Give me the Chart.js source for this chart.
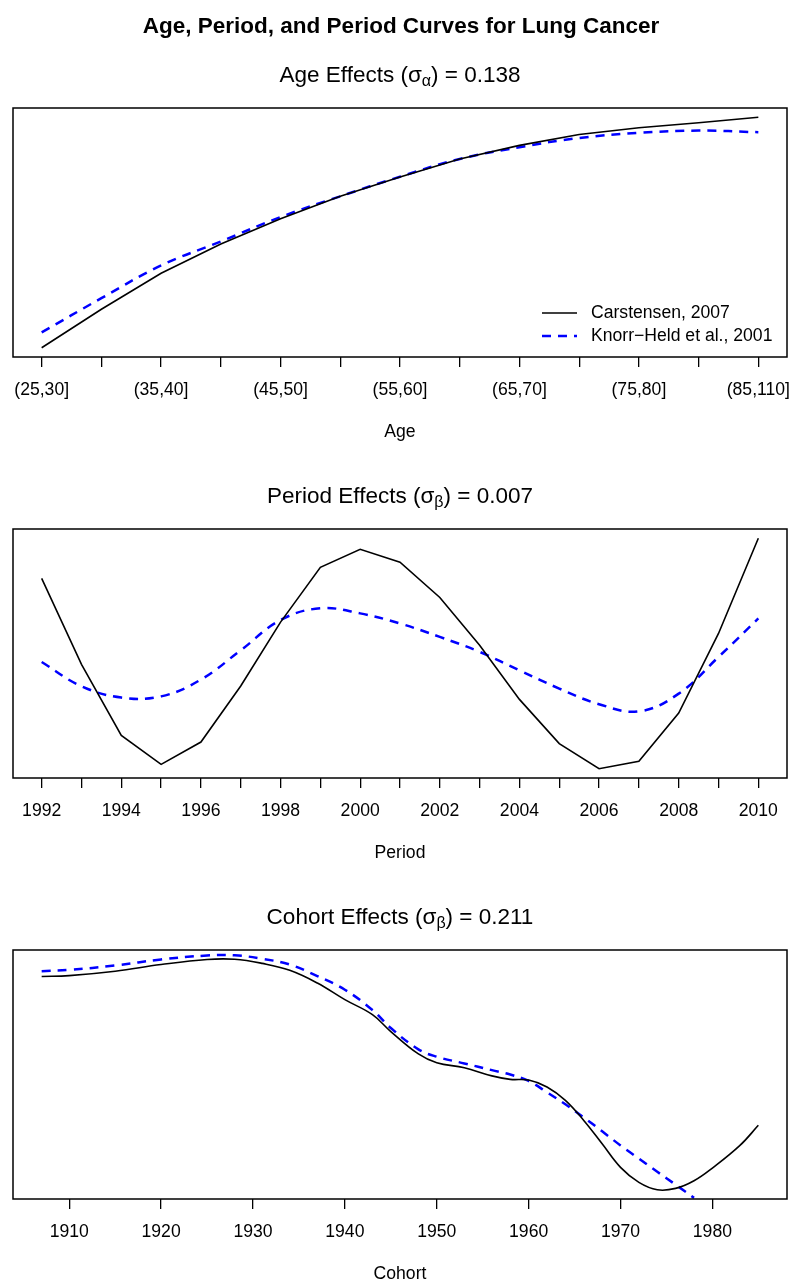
<!DOCTYPE html>
<html>
<head>
<meta charset="utf-8">
<script src="https://cdn.jsdelivr.net/npm/chart.js@4.4.1/dist/chart.umd.min.js"></script>
<style>
body { margin: 0; background: #fff; }
#wrap { position: relative; width: 793px; height: 1285px; }
canvas { position: absolute; left: 0; }
</style>
</head>
<body>
<div id="wrap">
    <canvas id="agePanel" width="793" height="443" style="top:0px"></canvas>
    <canvas id="periodPanel" width="793" height="443" style="top:421px"></canvas>
    <canvas id="cohortPanel" width="793" height="443" style="top:842px"></canvas>
</div>
<script>
// ---- data (relative effect scale, y axis is not drawn) ----
const ageLabels = ["(25,30]", "(30,35]", "(35,40]", "(40,45]", "(45,50]", "(50,55]", "(55,60]",
                   "(60,65]", "(65,70]", "(70,75]", "(75,80]", "(80,85]", "(85,110]"];
const ageCarstensen = [0, 0.167, 0.323, 0.450, 0.560, 0.657, 0.741, 0.819, 0.878, 0.925, 0.954, 0.976, 1.0];
const ageKnorrHeld  = [0.067, 0.215, 0.357, 0.461, 0.567, 0.657, 0.742, 0.819, 0.870, 0.910, 0.932, 0.942, 0.935];

const periodYears = [1992, 1993, 1994, 1995, 1996, 1997, 1998, 1999, 2000, 2001,
                     2002, 2003, 2004, 2005, 2006, 2007, 2008, 2009, 2010];
const periodCarstensen = [0.826, 0.453, 0.145, 0.019, 0.116, 0.359, 0.636, 0.874, 0.952, 0.896,
                          0.743, 0.536, 0.301, 0.109, 0, 0.033, 0.242, 0.587, 1.0];
const periodKnorrHeld  = [0.463, 0.358, 0.309, 0.314, 0.387, 0.514, 0.645, 0.696, 0.674, 0.630,
                          0.572, 0.507, 0.427, 0.348, 0.280, 0.249, 0.326, 0.485, 0.652];

const cohortYearsC = [1907, 1910, 1915, 1920, 1925, 1928, 1931, 1934, 1937, 1940, 1943, 1945,
                      1948, 1950, 1953, 1956, 1958, 1960, 1962, 1964, 1966, 1968, 1970, 1972, 1974, 1976,
                      1978, 1980, 1983, 1985];
const cohortCarstensen = [0.923, 0.927, 0.946, 0.975, 0.997, 0.998, 0.980, 0.950, 0.895, 0.823, 0.758,
                          0.685, 0.588, 0.550, 0.528, 0.493, 0.478, 0.475, 0.445, 0.387, 0.300, 0.199,
                          0.097, 0.032, 0, 0.006, 0.039, 0.094, 0.192, 0.279];
const cohortYearsK = [1907, 1910, 1915, 1920, 1925, 1928, 1931, 1934, 1937, 1940, 1943, 1945,
                      1948, 1950, 1953, 1956, 1958, 1960, 1962, 1964, 1966, 1968, 1970, 1972, 1974, 1976, 1978];
const cohortKnorrHeld = [0.946, 0.952, 0.971, 0.997, 1.014, 1.015, 1.000, 0.975, 0.925, 0.866, 0.778,
                         0.700, 0.608, 0.576, 0.547, 0.518, 0.499, 0.471, 0.422, 0.370, 0.313, 0.253,
                         0.192, 0.135, 0.078, 0.022, -0.035];
const cohortTicks = [1910, 1920, 1930, 1940, 1950, 1960, 1970, 1980];

const FONT = '"Liberation Sans", Arial, Helvetica, sans-serif';
const TICK_SIZE = 17.6;

// R style range: data range plus 4% each side
function padRange(values){
    const lo = Math.min(...values), hi = Math.max(...values);
    const pad = (hi - lo) * 0.04;
    return { min: lo - pad, max: hi + pad };
}

function toPoints(xs, ys){
    return ys.map((y, i) => ({ x: xs[i], y: y }));
}

// box, titles and legend drawn on top of the chart
const panelDecor = {
    id: 'panelDecor',
    afterDraw(chart, args, opts){
        const ctx = chart.ctx;
        const a = chart.chartArea;
        const cx = (a.left + a.right) / 2;
        ctx.save();
        ctx.strokeStyle = '#000';
        ctx.lineWidth = 1.5;
        ctx.strokeRect(a.left, a.top, a.right - a.left, a.bottom - a.top);

        ctx.fillStyle = '#000';
        ctx.textBaseline = 'alphabetic';
        if (opts.main) {
            ctx.font = 'bold 22.5px ' + FONT;
            ctx.textAlign = 'center';
            ctx.fillText(opts.main, cx + 1, 33);
        }

        // subtitle with a subscript
        const [pre, sub, post] = opts.sub;
        ctx.textAlign = 'left';
        ctx.font = '22.5px ' + FONT;
        const w1 = ctx.measureText(pre).width;
        const w3 = ctx.measureText(post).width;
        ctx.font = '16px ' + FONT;
        const w2 = ctx.measureText(sub).width;
        let x = cx - (w1 + w2 + w3) / 2;
        const base = 82;
        ctx.font = '22.5px ' + FONT;
        ctx.fillText(pre, x, base);
        x += w1;
        ctx.font = '16px ' + FONT;
        ctx.fillText(sub, x, base + 4);
        x += w2;
        ctx.font = '22.5px ' + FONT;
        ctx.fillText(post, x, base);

        if (opts.legend) {
            ctx.font = TICK_SIZE + 'px ' + FONT;
            ctx.textBaseline = 'middle';
            const rows = [313, 336];
            chart.data.datasets.forEach((ds, i) => {
                const y = rows[i];
                ctx.beginPath();
                ctx.strokeStyle = ds.borderColor;
                ctx.lineWidth = ds.borderWidth;
                ctx.setLineDash(ds.borderDash || []);
                ctx.moveTo(542, y);
                ctx.lineTo(577, y);
                ctx.stroke();
                ctx.setLineDash([]);
                ctx.fillText(ds.label, 591, y);
            });
        }
        ctx.restore();
    }
};

function makePanel(id, cfg){
    const yr = padRange(cfg.black.map(p => p.y));
    const xr = padRange(cfg.black.map(p => p.x));

    return new Chart(document.getElementById(id), {
        type: 'line',
        data: {
            datasets: [
                {
                    label: 'Carstensen, 2007',
                    data: cfg.black,
                    borderColor: '#000000',
                    borderWidth: 1.6,
                    pointRadius: 0,
                    tension: cfg.blackSmooth ? 0.4 : 0
                },
                {
                    label: 'Knorr\u2212Held et al., 2001',
                    data: cfg.blue,
                    borderColor: '#0000ff',
                    borderWidth: 2.5,
                    borderDash: [9, 7],
                    pointRadius: 0,
                    tension: 0.4
                }
            ]
        },
        options: {
            responsive: false,
            animation: false,
            events: [],
            layout: { padding: { top: 108, left: 13, right: 6, bottom: 0 } },
            plugins: {
                legend: { display: false },
                tooltip: { enabled: false },
                panelDecor: { main: cfg.main, sub: cfg.sub, legend: cfg.legend }
            },
            scales: {
                x: {
                    type: 'linear',
                    min: xr.min,
                    max: xr.max,
                    afterBuildTicks: axis => { axis.ticks = cfg.ticks.map(v => ({ value: v })); },
                    afterFit: axis => {
                        axis.height = 86;
                        axis.paddingLeft = 0;
                        axis.paddingRight = 0;
                    },
                    grid: { display: true, drawOnChartArea: false, drawTicks: true, tickLength: 10, color: '#000', lineWidth: 1.3 },
                    border: { display: false },
                    ticks: {
                        color: '#000',
                        font: { family: FONT, size: TICK_SIZE },
                        padding: 13,
                        maxRotation: 0,
                        autoSkip: false,
                        callback: cfg.tickLabel
                    },
                    title: {
                        display: true,
                        text: cfg.xTitle,
                        color: '#000',
                        font: { family: FONT, size: TICK_SIZE },
                        padding: { top: 0, bottom: 0 }
                    }
                },
                y: { display: false, min: yr.min, max: yr.max }
            }
        },
        plugins: [panelDecor]
    });
}

makePanel('agePanel', {
    main: 'Age, Period, and Period Curves for Lung Cancer',
    sub: ['Age Effects (\u03c3', '\u03b1', ') = 0.138'],
    legend: true,
    black: toPoints(ageLabels.map((_, i) => i), ageCarstensen),
    blue: toPoints(ageLabels.map((_, i) => i), ageKnorrHeld),
    ticks: ageLabels.map((_, i) => i),
    tickLabel: v => (v % 2 === 0 ? ageLabels[v] : ''),
    xTitle: 'Age'
});

makePanel('periodPanel', {
    sub: ['Period Effects (\u03c3', '\u03b2', ') = 0.007'],
    black: toPoints(periodYears, periodCarstensen),
    blue: toPoints(periodYears, periodKnorrHeld),
    ticks: periodYears,
    tickLabel: v => (v % 2 === 0 ? String(v) : ''),
    xTitle: 'Period'
});

makePanel('cohortPanel', {
    sub: ['Cohort Effects (\u03c3', '\u03b2', ') = 0.211'],
    blackSmooth: true,
    black: toPoints(cohortYearsC, cohortCarstensen),
    blue: toPoints(cohortYearsK, cohortKnorrHeld),
    ticks: cohortTicks,
    tickLabel: v => String(v),
    xTitle: 'Cohort'
});
</script>
</body>
</html>
